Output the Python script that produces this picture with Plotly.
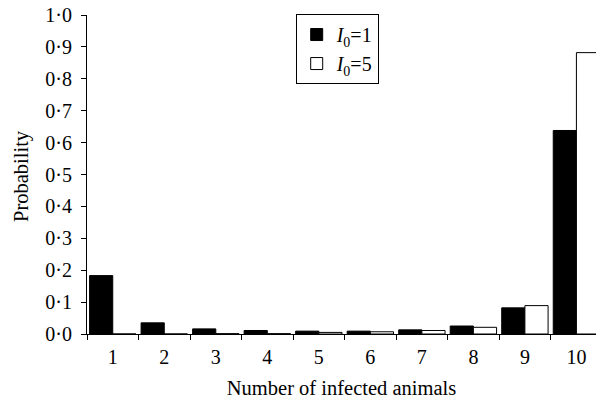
import plotly.graph_objects as go

categories = ["1", "2", "3", "4", "5", "6", "7", "8", "9", "10"]
p_i0_1 = [0.183, 0.035, 0.016, 0.011, 0.009, 0.009, 0.013, 0.025, 0.082, 0.638]
p_i0_5 = [0.0, 0.0, 0.001, 0.001, 0.005, 0.007, 0.011, 0.021, 0.089, 0.882]
ytick_vals = [0.0, 0.1, 0.2, 0.3, 0.4, 0.5, 0.6, 0.7, 0.8, 0.9, 1.0]
ytick_text = ["0·0", "0·1", "0·2", "0·3", "0·4", "0·5", "0·6", "0·7", "0·8", "0·9", "1·0"]

FONT = "Liberation Serif"

fig = go.Figure()
fig.add_trace(go.Bar(x=categories, y=p_i0_1, name="<i>I</i><sub>0</sub>=1",
                     marker=dict(color="black", line=dict(color="black", width=1)),
                     legendgroup="a"))
fig.add_trace(go.Bar(x=categories, y=p_i0_5, name="<i>I</i><sub>0</sub>=5",
                     marker=dict(color="white", line=dict(color="black", width=1)),
                     legendgroup="b"))

fig.update_layout(
    width=596, height=401,
    margin=dict(l=87, r=0, t=15, b=67),
    paper_bgcolor="white", plot_bgcolor="white",
    font=dict(family=FONT, size=17, color="black"),
    barmode="group", bargap=0.1, bargroupgap=0.0,
    legend=dict(x=0.41, y=1.003, xanchor="left", yanchor="top",
                bordercolor="black", borderwidth=1, bgcolor="white",
                font=dict(family=FONT, size=20),
                traceorder="grouped", tracegroupgap=0),
    xaxis=dict(type="category", range=[-0.5, 9.38], showline=True, linecolor="black",
               linewidth=1, ticks="outside", tickson="boundaries", ticklen=5,
               tickcolor="black", showgrid=False, zeroline=False,
               ticklabelstandoff=5,
               title=dict(text="Number of infected animals", standoff=13,
                          font=dict(family=FONT, size=20.5)),
               tickfont=dict(family=FONT, size=20)),
    yaxis=dict(range=[0, 1.0], tickvals=ytick_vals, ticktext=ytick_text,
               showline=True, linecolor="black", linewidth=1, ticks="outside",
               ticklen=5, tickcolor="black", showgrid=False, zeroline=False,
               ticklabelstandoff=5,
               tickfont=dict(family=FONT, size=20)),
    annotations=[dict(text="Probability", textangle=-90, xref="paper", yref="paper",
                      x=(21 - 87) / 509, y=(334 - 176) / 319, xanchor="center",
                      yanchor="middle", showarrow=False,
                      font=dict(family=FONT, size=20.5))],
)

fig.write_html("out.html")
